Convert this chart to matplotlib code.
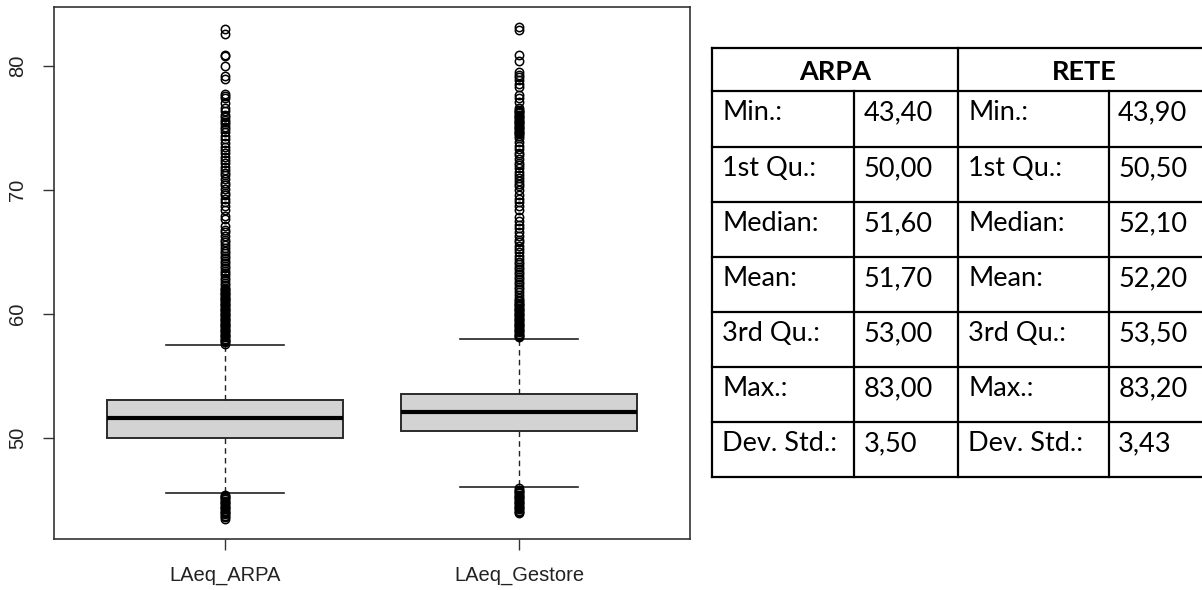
import matplotlib
matplotlib.use("Agg")
import matplotlib.pyplot as plt

# boxplot data (LAeq, dB)
groups = ["LAeq_ARPA", "LAeq_Gestore"]
q1 = [50.0, 50.5]
med = [51.6, 52.1]
q3 = [53.0, 53.5]
whislo = [45.5, 46.0]
whishi = [57.5, 58.0]

arpa_out_hi = [83.0, 82.6, 80.9, 80.8, 80.0, 79.2, 79.0, 77.8, 77.6, 77.4, 77.0, 76.6, 76.4,
               76.1, 75.9, 75.7, 75.5, 75.3, 75.1, 74.9, 74.7, 74.4, 74.1, 73.8, 73.5, 73.2,
               73.0, 72.7, 72.4, 72.2, 71.9, 71.6, 71.4, 71.2, 70.9, 70.6, 70.4, 70.1, 69.8,
               69.6, 69.3, 69.0, 68.7, 68.4, 67.9, 67.7, 67.1, 66.8, 66.6, 66.3, 66.0, 65.8,
               65.6, 65.3, 65.1, 64.9, 64.7, 64.5, 64.3, 64.1, 63.9, 63.7, 63.5, 63.3, 63.1,
               62.9, 62.7, 62.5, 62.3, 62.1, 62.0, 61.9, 61.8, 61.7, 61.6, 61.5, 61.4, 61.3,
               61.2, 61.1, 61.0, 60.9, 60.8, 60.7, 60.6, 60.5, 60.4, 60.3, 60.2, 60.1, 60.0,
               59.9, 59.8, 59.7, 59.6, 59.5, 59.4, 59.3, 59.2, 59.1, 59.0, 58.9, 58.8, 58.7,
               58.6, 58.5, 58.4, 58.3, 58.2, 58.1, 58.0, 57.9, 57.8, 57.7, 57.6]
arpa_out_lo = [45.4, 45.3, 45.2, 45.1, 45.0, 44.9, 44.8, 44.7, 44.6, 44.5, 44.4, 44.3, 44.2,
               44.1, 44.0, 43.9, 43.8, 43.7, 43.6, 43.4]
rete_out_hi = [83.2, 82.9, 80.9, 80.4, 79.5, 79.3, 79.1, 78.9, 78.6, 78.3, 77.7, 77.4, 77.1,
               76.6, 76.5, 76.4, 76.3, 76.2, 76.1, 76.0, 75.9, 75.8, 75.7, 75.6, 75.5, 75.4,
               75.3, 75.2, 75.1, 75.0, 74.9, 74.8, 74.7, 74.6, 74.5, 74.4, 74.2, 73.9, 73.6,
               73.3, 73.0, 72.8, 72.5, 72.2, 72.0, 71.8, 71.5, 71.2, 71.0, 70.7, 70.5, 70.3,
               70.0, 69.6, 69.3, 69.0, 68.7, 68.4, 67.8, 67.5, 67.2, 66.9, 66.6, 66.3, 66.0,
               65.8, 65.5, 65.2, 65.0, 64.7, 64.4, 64.2, 64.0, 63.8, 63.6, 63.4, 63.2, 63.0,
               62.8, 62.6, 62.4, 62.2, 62.0, 61.8, 61.5, 61.3, 61.1, 61.0, 60.9, 60.8, 60.7,
               60.6, 60.5, 60.4, 60.3, 60.2, 60.1, 60.0, 59.9, 59.8, 59.7, 59.6, 59.5, 59.4,
               59.3, 59.2, 59.1, 59.0, 58.9, 58.8, 58.7, 58.6, 58.5, 58.4, 58.3, 58.2, 58.1]
rete_out_lo = [45.9, 45.8, 45.7, 45.6, 45.5, 45.4, 45.3, 45.2, 45.1, 45.0, 44.9, 44.8, 44.7,
               44.6, 44.5, 44.4, 44.3, 44.2, 44.1, 44.0, 43.9]
fliers = [arpa_out_lo + arpa_out_hi, rete_out_lo + rete_out_hi]

# summary table
table_heads = ["ARPA", "RETE"]
stat_labels = ["Min.:", "1st Qu.:", "Median:", "Mean:", "3rd Qu.:", "Max.:", "Dev. Std.:"]
arpa_stats = [43.40, 50.00, 51.60, 51.70, 53.00, 83.00, 3.50]
rete_stats = [43.90, 50.50, 52.10, 52.20, 53.50, 83.20, 3.43]

W, H = 1202, 590
fig = plt.figure(figsize=(W / 100, H / 100), dpi=100)

ax = fig.add_axes([54 / W, (H - 539) / H, 636 / W, 532 / H])
stats = []
for i in range(len(groups)):
    stats.append(dict(med=med[i], q1=q1[i], q3=q3[i], whislo=whislo[i], whishi=whishi[i],
                      fliers=fliers[i], label=groups[i]))
ax.bxp(stats, positions=[1, 2], widths=0.8, capwidths=0.4, patch_artist=True,
       boxprops=dict(facecolor="#d3d3d3", edgecolor="#2a2a2a", linewidth=1.4),
       medianprops=dict(color="black", linewidth=3),
       whiskerprops=dict(color="#222222", linestyle=(0, (4, 3)), linewidth=1),
       capprops=dict(color="#222222", linewidth=1.2),
       flierprops=dict(marker="o", markersize=6, markerfacecolor="none",
                       markeredgecolor="black", markeredgewidth=1.1))

allv = [v for f in fliers for v in f]
lo, hi = min(allv), max(allv)
pad = 0.04 * (hi - lo)
ax.set_ylim(lo - pad, hi + pad)
ax.set_xlim(0.42, 2.58)
ax.set_yticks([50, 60, 70, 80])
for s in ax.spines.values():
    s.set_color("#333333")
    s.set_linewidth(1.2)
ax.tick_params(length=8, width=1, color="#333333", pad=11.5, labelsize=14.5, labelcolor="#222222")
for t in ax.get_yticklabels() + ax.get_xticklabels():
    t.set_family("Liberation Sans")
for t in ax.get_yticklabels():
    t.set_rotation(90)
    t.set_va("center")

# table drawn in pixel space
tax = fig.add_axes([0, 0, 1, 1])
tax.set_xlim(0, W)
tax.set_ylim(H, 0)
tax.axis("off")
col_x = [711.7, 854, 957.7, 1108.7, 1210]
row_y = [48, 91, 147, 202, 257, 312, 367, 422, 477]
lw = 1.6
# horizontal lines
for y in row_y:
    tax.plot([col_x[0], col_x[-1]], [y, y], color="black", lw=lw, solid_capstyle="projecting")
# vertical lines
for j, x in enumerate(col_x):
    y0 = row_y[0] if j in (0, 2, 4) else row_y[1]
    tax.plot([x, x], [y0, row_y[-1]], color="black", lw=lw, solid_capstyle="projecting")

tf = dict(family="Lato", fontsize=19.5, color="black")
for k, head in enumerate(table_heads):
    cx = (col_x[2 * k] + col_x[2 * k + 2]) / 2
    tax.text(cx, (row_y[0] + row_y[1]) / 2 + 2, head, ha="center", va="center",
             fontweight="bold", **tf)
for r, lab in enumerate(stat_labels):
    ytop = row_y[r + 1] + 9
    vals = [arpa_stats[r], rete_stats[r]]
    for k in range(2):
        tax.text(col_x[2 * k] + 10.5, ytop, lab, ha="left", va="top", **tf)
        tax.text(col_x[2 * k + 1] + 9.5, ytop, f"{vals[k]:.2f}".replace(".", ","),
                 ha="left", va="top", **tf)

fig.savefig("out.png", dpi=100)
